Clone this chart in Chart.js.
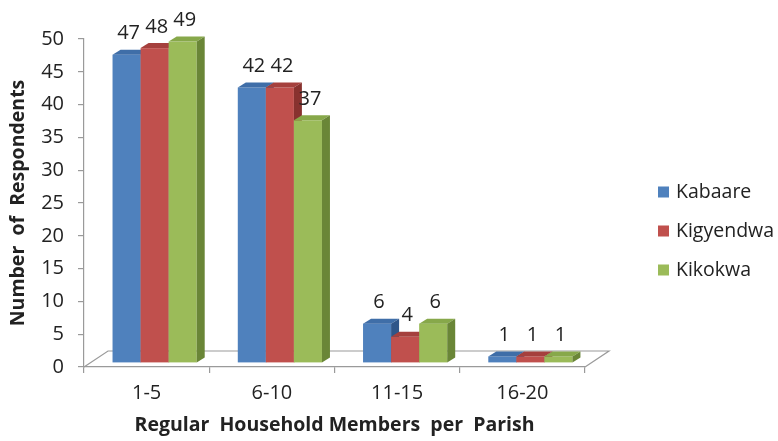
<!DOCTYPE html>
<html>
<head>
<meta charset="utf-8">
<script src="https://cdn.jsdelivr.net/npm/chart.js@4/dist/chart.umd.min.js"></script>
<style>
  html, body { margin: 0; padding: 0; background: #ffffff; }
  #wrap { width: 778px; height: 441px; }
</style>
</head>
<body>
<div id="wrap"><canvas id="c" width="778" height="441"></canvas></div>
<script>
const categories = ['1-5', '6-10', '11-15', '16-20'];
const kabaare = [47, 42, 6, 1];
const kigyendwa = [48, 42, 4, 1];
const kikokwa = [49, 37, 6, 1];
const seriesNames = ['Kabaare', 'Kigyendwa', 'Kikokwa'];
const yTicks = [0, 5, 10, 15, 20, 25, 30, 35, 40, 45, 50];

const FONT = '"Open Sans", Lato, sans-serif';
const frontColors = ['#4f81bd', '#c0504d', '#9bbb59'];
const topColors = ['#3f6ea8', '#a5403d', '#87a84a'];
const sideColors = ['#2f5689', '#88322f', '#6a8637'];
const AXIS = '#9a9a9a';
const TEXT = '#222222';

const DX = 8, DY = -4;      // bar shift into the floor
const BD = 8, BE = 5;       // bar depth
const FD = 24, FE = 16;     // floor depth

const threeD = {
  id: 'threeD',
  beforeDatasetsDraw(chart) {
    const { ctx, chartArea: a } = chart;
    ctx.save();
    ctx.strokeStyle = AXIS;
    ctx.lineWidth = 1.2;
    ctx.beginPath();
    ctx.moveTo(a.left, a.bottom);
    ctx.lineTo(a.left + FD, a.bottom - FE);
    ctx.lineTo(a.right + FD, a.bottom - FE);
    ctx.lineTo(a.right, a.bottom);
    ctx.stroke();
    ctx.restore();
  },
  afterDatasetsDraw(chart) {
    const { ctx } = chart;
    ctx.save();
    for (let d = 0; d < chart.data.datasets.length; d++) {
      const meta = chart.getDatasetMeta(d);
      meta.data.forEach((el) => {
        const L = el.x - el.width / 2 + DX;
        const R = el.x + el.width / 2 + DX;
        const T = el.y + DY;
        const B = el.base + DY;
        ctx.fillStyle = frontColors[d];
        ctx.fillRect(L, T, R - L, B - T);
        ctx.fillStyle = topColors[d];
        ctx.beginPath();
        ctx.moveTo(L, T);
        ctx.lineTo(L + BD, T - BE);
        ctx.lineTo(R + BD, T - BE);
        ctx.lineTo(R, T);
        ctx.closePath();
        ctx.fill();
        ctx.fillStyle = sideColors[d];
        ctx.beginPath();
        ctx.moveTo(R, T);
        ctx.lineTo(R + BD, T - BE);
        ctx.lineTo(R + BD, B - BE);
        ctx.lineTo(R, B);
        ctx.closePath();
        ctx.fill();
      });
    }
    ctx.fillStyle = TEXT;
    ctx.font = '20px ' + FONT;
    ctx.textAlign = 'center';
    ctx.textBaseline = 'middle';
    for (let d = 0; d < chart.data.datasets.length; d++) {
      const meta = chart.getDatasetMeta(d);
      const vals = chart.data.datasets[d].data;
      meta.data.forEach((el, i) => {
        ctx.fillText(String(vals[i]), el.x + DX + 2, el.y + DY - 21);
      });
    }
    ctx.restore();
  },
  afterDraw(chart) {
    const { ctx } = chart;
    ctx.save();
    ctx.font = '19.5px ' + FONT;
    ctx.textAlign = 'left';
    ctx.textBaseline = 'middle';
    const ys = [192, 231, 270];
    chart.data.datasets.forEach((ds, i) => {
      ctx.fillStyle = frontColors[i];
      ctx.fillRect(658, ys[i] - 5.5, 11, 11);
      ctx.fillStyle = TEXT;
      ctx.fillText(ds.label, 676, ys[i]);
    });
    ctx.restore();
  }
};

new Chart(document.getElementById('c'), {
  type: 'bar',
  data: {
    labels: categories,
    datasets: [
      { label: seriesNames[0], data: kabaare },
      { label: seriesNames[1], data: kigyendwa },
      { label: seriesNames[2], data: kikokwa }
    ].map(ds => Object.assign(ds, { backgroundColor: 'rgba(0,0,0,0)', borderWidth: 0,
                                    categoryPercentage: 0.672, barPercentage: 1.0 }))
  },
  options: {
    responsive: false,
    animation: false,
    devicePixelRatio: 1,
    layout: { padding: { top: 39, right: 193, bottom: 0, left: 0 } },
    plugins: {
      legend: { display: false },
      tooltip: { enabled: false }
    },
    scales: {
      x: {
        offset: true,
        grid: { offset: true, drawOnChartArea: false, tickLength: 6, color: AXIS, lineWidth: 1.2 },
        border: { display: true, color: AXIS, width: 1.2 },
        ticks: { color: TEXT, font: { family: FONT, size: 20 }, padding: 8, maxRotation: 0 },
        title: { display: true, text: 'Regular  Household Members  per  Parish', color: TEXT,
                 font: { family: FONT, size: 19.5, weight: 'bold' }, padding: { top: 2, bottom: 4 } },
        afterFit(s) { s.height = 74; }
      },
      y: {
        min: 0, max: 50,
        afterBuildTicks(s) { s.ticks = yTicks.map(v => ({ value: v })); },
        grid: { drawOnChartArea: false, tickLength: 6, color: AXIS, lineWidth: 1.2 },
        border: { display: true, color: AXIS, width: 1.2 },
        ticks: { color: TEXT, font: { family: FONT, size: 20 }, padding: 14 },
        title: { display: true, text: 'Number  of  Respondents', color: TEXT,
                 font: { family: FONT, size: 19.5, weight: 'bold' }, padding: { top: 7, bottom: 6 } },
        afterFit(s) { s.width = 84; }
      }
    }
  },
  plugins: [threeD]
});
</script>
</body>
</html>
